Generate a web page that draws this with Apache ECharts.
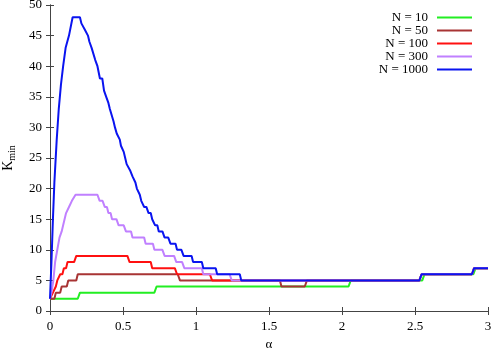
<!DOCTYPE html>
<html>
<head>
<meta charset="utf-8">
<script src="https://cdn.jsdelivr.net/npm/echarts@6/dist/echarts.min.js"></script>
<style>
  html, body { margin: 0; padding: 0; background: #fff; }
  #chart { width: 491px; height: 349px; }
</style>
</head>
<body>
<div id="chart"></div>
<script>
// series names and colours
var seriesNames = ['N = 10', 'N = 50', 'N = 100', 'N = 300', 'N = 1000'];
var seriesColors = ['#22ee22', '#a83434', '#ff1010', '#c080ff', '#0a14f0'];

// [alpha, K_min] vertices
var n10 = [[0,2],[0.19,2],[0.205,3],[0.715,3],[0.73,4],[2.045,4],[2.06,5],[2.55,5],[2.565,6],[2.9,6],[2.915,7],[3,7]];
var n50 = [[0,2],[0.03,2],[0.04,3],[0.07,3],[0.08,4],[0.115,4],[0.125,5],[0.18,5],[0.19,6],[0.875,6],[0.89,5],[1.575,5],
  [1.585,4],[1.745,4],[1.76,5],[2.53,5],[2.545,6],[2.89,6],[2.905,7],[3,7]];
var n100 = [[0,2],[0.01,2],[0.02,3],[0.03,3],[0.04,4],[0.05,5],[0.06,5],[0.07,6],[0.085,6],[0.095,7],[0.11,7],[0.12,8],
  [0.165,8],[0.18,9],[0.53,9],[0.545,8],[0.69,8],[0.70,7],[0.855,7],[0.87,6],[1.095,6],[1.11,5],[2.53,5],[2.545,6],
  [2.89,6],[2.905,7],[3,7]];
var n300 = [[0,2],[0.01,3],[0.023,5],[0.035,8],[0.05,10],[0.065,12],[0.08,13],[0.09,14],[0.10,14],[0.11,16],[0.12,16],
  [0.13,17],[0.14,17],[0.15,18],[0.16,18],[0.175,19],[0.325,19],[0.34,18],[0.36,18],[0.375,17],[0.39,17],[0.40,16],
  [0.415,16],[0.425,15],[0.455,15],[0.47,14],[0.505,14],[0.52,13],[0.555,13],[0.565,12],[0.645,12],[0.655,11],
  [0.705,11],[0.715,10],[0.77,10],[0.785,9],[0.85,9],[0.865,8],[0.905,8],[0.92,7],[1.04,7],[1.05,6],[1.23,6],
  [1.245,5],[2.53,5],[2.545,6],[2.89,6],[2.905,7],[3,7]];
var n1000 = [[0,2],[0.01,8],[0.02,15],[0.03,21],[0.046,28],[0.06,33],[0.075,37],[0.09,40],[0.107,43],[0.13,45],
  [0.155,48],[0.205,48],[0.215,47],[0.228,47],[0.238,46],[0.25,46],[0.26,45],[0.27,44],[0.285,43],[0.297,43],
  [0.31,41],[0.325,40],[0.342,38],[0.358,38],[0.37,36],[0.385,35],[0.40,34],[0.41,33],[0.42,33],[0.435,31],
  [0.445,30],[0.457,29],[0.468,29],[0.478,28],[0.486,27],[0.498,27],[0.505,26],[0.515,25],[0.525,24],[0.536,24],
  [0.548,23],[0.555,23],[0.565,22],[0.575,22],[0.585,21],[0.595,20],[0.605,20],[0.615,19],[0.625,18],[0.635,18],
  [0.645,17],[0.66,17],[0.675,16],[0.69,16],[0.70,15],[0.71,15],[0.72,14],[0.735,14],[0.745,13],[0.77,13],
  [0.785,12],[0.81,12],[0.825,11],[0.86,11],[0.87,10],[0.90,10],[0.915,9],[0.97,9],[0.98,8],[1.04,8],[1.05,7],
  [1.135,7],[1.145,6],[1.30,6],[1.31,5],[2.53,5],[2.545,6],[2.89,6],[2.905,7],[3,7]];
var allData = [n10, n50, n100, n300, n1000];

var font = 'Liberation Serif';
var borderColor = '#444';

var myChart = echarts.init(document.getElementById('chart'));

var option = {
  animation: false,
  textStyle: { fontFamily: font, color: '#000' },
  grid: { left: 50, right: 3, top: 5, bottom: 38, outerBoundsMode: 'none', containLabel: false },
  legend: {
    orient: 'vertical',
    right: 14,
    top: 6,
    align: 'right',
    icon: 'rect',
    itemWidth: 35,
    itemHeight: 2,
    itemGap: 0,
    textStyle: { fontFamily: font, fontSize: 13, lineHeight: 13, color: '#000', padding: [0, 4, 0, 0] },
    data: seriesNames
  },
  xAxis: [{
    type: 'value',
    min: 0, max: 3, interval: 0.5,
    name: 'α',
    nameLocation: 'middle',
    nameGap: 25,
    nameTextStyle: { fontFamily: font, fontSize: 13 },
    axisLine: { lineStyle: { color: borderColor, width: 1 } },
    axisTick: { inside: true, length: 4, lineStyle: { color: borderColor } },
    axisLabel: { margin: 9, fontSize: 13, color: '#000', fontFamily: font },
    splitLine: { show: false }
  }, {
    type: 'value', position: 'top',
    min: 0, max: 3, interval: 0.5,
    axisLine: { lineStyle: { color: borderColor, width: 1 } },
    axisTick: { inside: true, length: 4, lineStyle: { color: borderColor } },
    axisLabel: { show: false },
    splitLine: { show: false }
  }],
  yAxis: [{
    type: 'value',
    min: 0, max: 50, interval: 5,
    name: '{k|K}{s|min}',
    nameLocation: 'middle',
    nameRotate: 90,
    nameGap: 33,
    nameTextStyle: {
      rich: {
        k: { fontFamily: font, fontSize: 14, color: '#000' },
        s: { fontFamily: font, fontSize: 10, color: '#000', verticalAlign: 'bottom', padding: [7, 0, 0, 0] }
      }
    },
    axisLine: { show: true, lineStyle: { color: borderColor, width: 1 } },
    axisTick: { show: true, inside: true, length: 4, lineStyle: { color: borderColor } },
    axisLabel: { margin: 8, fontSize: 13, color: '#000', fontFamily: font },
    splitLine: { show: false }
  }, {
    type: 'value', position: 'right',
    min: 0, max: 50, interval: 5,
    axisLine: { show: true, lineStyle: { color: borderColor, width: 1 } },
    axisTick: { show: true, inside: true, length: 4, lineStyle: { color: borderColor } },
    axisLabel: { show: false },
    splitLine: { show: false }
  }],
  series: seriesNames.map(function (name, i) {
    return {
      name: name,
      type: 'line',
      data: allData[i],
      symbol: 'none',
      color: seriesColors[i],
      lineStyle: { width: 2, color: seriesColors[i] },
      z: 2 + i
    };
  })
};

myChart.setOption(option);
</script>
</body>
</html>
